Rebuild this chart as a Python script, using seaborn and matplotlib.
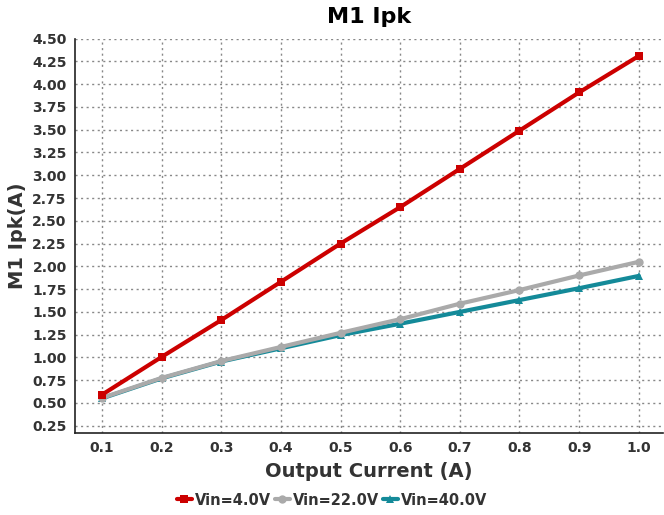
import matplotlib
matplotlib.use("Agg")
import matplotlib.pyplot as plt
import seaborn as sns
import pandas as pd

# Peak switch current of M1 versus load current, for three input voltages
output_current = [0.1, 0.2, 0.3, 0.4, 0.5, 0.6, 0.7, 0.8, 0.9, 1.0]
ipk_vin_4v = [0.59, 1.005, 1.41, 1.83, 2.25, 2.65, 3.07, 3.49, 3.91, 4.31]
ipk_vin_22v = [0.555, 0.775, 0.96, 1.115, 1.27, 1.42, 1.59, 1.74, 1.90, 2.05]
ipk_vin_40v = [0.55, 0.77, 0.955, 1.10, 1.245, 1.37, 1.50, 1.63, 1.76, 1.895]
series_names = ["Vin=4.0V", "Vin=22.0V", "Vin=40.0V"]
y_ticks = [0.25, 0.50, 0.75, 1.00, 1.25, 1.50, 1.75, 2.00, 2.25, 2.50,
           2.75, 3.00, 3.25, 3.50, 3.75, 4.00, 4.25, 4.50]

df = pd.DataFrame({
    "Output Current (A)": output_current * 3,
    "M1 Ipk(A)": ipk_vin_4v + ipk_vin_22v + ipk_vin_40v,
    "Series": [series_names[0]] * 10 + [series_names[1]] * 10 + [series_names[2]] * 10,
})

sns.set_style("white")
plt.rcParams["font.family"] = ["DejaVu Sans"]

palette = {series_names[0]: "#cc0000", series_names[1]: "#aaaaaa", series_names[2]: "#148a99"}
markers = {series_names[0]: "s", series_names[1]: "o", series_names[2]: "^"}

fig, ax = plt.subplots(figsize=(6.64, 5.15), dpi=100)
fig.subplots_adjust(left=0.113, right=0.998, top=0.925, bottom=0.16)

sns.lineplot(data=df, x="Output Current (A)", y="M1 Ipk(A)", hue="Series", style="Series",
             palette=palette, markers=markers, dashes=False, linewidth=3,
             markersize=6, markeredgewidth=0, ax=ax)

# first series drawn on top, last series underneath
for i, line in enumerate(ax.lines[:3]):
    line.set_zorder(6 - i)

ax.set_xlim(0.055, 1.04)
ax.set_ylim(0.175, 4.5)
ax.set_xticks(output_current)
ax.set_xticklabels([f"{v:.1f}" for v in output_current])
ax.set_yticks(y_ticks)
ax.set_yticklabels([f"{v:.2f}" for v in y_ticks])

ax.grid(True, linestyle=(0, (1.5, 2.5)), color="#888888", linewidth=1)
for side in ("top", "right"):
    ax.spines[side].set_visible(False)
for side in ("left", "bottom"):
    ax.spines[side].set_color("#222222")
    ax.spines[side].set_linewidth(1.2)

ax.tick_params(axis="both", length=0, pad=6, labelsize=10, colors="#333333")
for lbl in ax.get_xticklabels() + ax.get_yticklabels():
    lbl.set_fontweight("bold")

ax.set_title("M1 Ipk", fontsize=16, fontweight="bold", pad=11, color="black")
ax.set_xlabel("Output Current (A)", fontsize=14, fontweight="bold", color="#333333", labelpad=5)
ax.set_ylabel("M1 Ipk(A)", fontsize=14, fontweight="bold", color="#333333", labelpad=4)

leg = ax.legend(loc="upper center", bbox_to_anchor=(0.5, 0.055), bbox_transform=fig.transFigure,
                ncol=3, frameon=False, borderaxespad=0,
                handlelength=1.0, handletextpad=0.2, columnspacing=0.3,
                prop={"weight": "bold", "size": 10.5})
for t in leg.get_texts():
    t.set_color("#333333")

fig.savefig("out.png", dpi=100)
